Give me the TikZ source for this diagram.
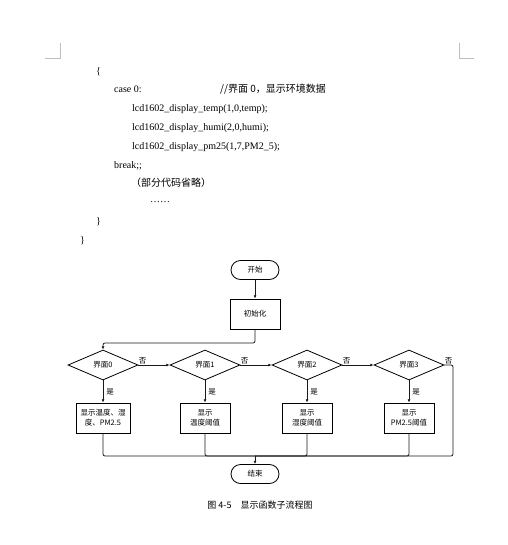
\documentclass[tikz,border=0pt]{standalone}
\usepackage{fontspec}
\setmainfont{Liberation Serif}
\newfontfamily\cjk{Noto Sans CJK SC}
\usetikzlibrary{arrows.meta, positioning, calc, shapes}

\begin{document}
\begin{tikzpicture}[x=1pt, y=-1pt,
    every node/.style={inner sep=0pt},
    code/.style={anchor=base west, font=\fontsize{10}{12}\selectfont},
    flow/.style={font=\fontsize{7.5}{10}\selectfont\cjk, align=center},
    term/.style={flow, draw, line width=0.8pt, rounded corners=9.5pt, minimum width=48pt, minimum height=19pt},
    proc/.style={flow, draw, line width=0.8pt, minimum width=50pt, minimum height=30pt},
    decide/.style={flow, draw, line width=0.8pt, diamond, minimum width=70pt, minimum height=30pt},
    lbl/.style={font=\fontsize{7.5}{9}\selectfont\cjk},
    line/.style={draw=black!90, line width=0.8pt, rounded corners=2pt},
    arr/.style={line, -{Latex[length=3.2pt, width=2.8pt]}}]
    \useasboundingbox (0,0) rectangle (507,545);

    % Page corner marks
    \draw[gray!50, line width=0.7pt] (45,58) -- (60,58) -- (60,43);
    \draw[gray!50, line width=0.7pt] (459,43) -- (459,58) -- (474,58);

    % Code listing
    \node[code] (c1) at (96,75) {\{};
    \node[code] (c2) at (114,92.5) {case 0:};
    \node[code] (c2b) at (220,92.5) {\cjk //界面 0，显示环境数据};
    \node[code] (c3) at (132,111.5) {lcd1602\_display\_temp(1,0,temp);};
    \node[code] (c4) at (132,130.5) {lcd1602\_display\_humi(2,0,humi);};
    \node[code] (c5) at (132,149.5) {lcd1602\_display\_pm25(1,7,PM2\_5);};
    \node[code] (c6) at (114,168.5) {break;;};
    \node[code] (c7) at (131,187) {\cjk （部分代码省略）};
    \node[code] (c8) at (150,202) {……};
    \node[code] (c9) at (96,224) {\}};
    \node[code] (c10) at (80,243) {\}};

    % Flowchart
    \node[term] (start) at (255,270) {开始};
    \node[proc] (init) at (255,314) {初始化};
    \foreach \i/\x in {0/103, 1/205, 2/307, 3/409}
        \node[decide] (d\i) at (\x,365) {界面\i};
    \node[proc, minimum width=54pt] (b0) at (103,418) {显示温度、湿\\度、PM2.5};
    \node[proc] (b1) at (205,418) {显示\\温度阈值};
    \node[proc] (b2) at (307,418) {显示\\湿度阈值};
    \node[proc] (b3) at (409,418) {显示\\PM2.5阈值};
    \node[term] (stop) at (255,474) {结束};

    \coordinate (top) at (103,343);
    \coordinate (join) at (255,456);
    \coordinate (rt) at (453,456);

    \draw[arr] (start) -- (init);
    \draw[arr] (init.south) |- (top) -- (d0.north);
    \foreach \i/\j in {0/1, 1/2, 2/3}
        \draw[arr] (d\i.east) node[lbl, above right=1pt and 0pt] (no\i) {否} -- (d\j.west);
    \foreach \i in {0,...,3}
        \draw[arr] (d\i.south) -- node[lbl, right=3pt] (yes\i) {是} (b\i.north);
    \draw[line] (d3.east) node[lbl, above right=1pt and 0pt] (no3) {否} -| (rt) -- (join);
    \foreach \i in {0,...,3}
        \draw[line] (b\i.south) |- (join);
    \draw[arr] (join) -- (stop);

    % Caption
    \node[font=\fontsize{9}{11}\selectfont\cjk] (cap) at (260,505) {图 4-5\quad 显示函数子流程图};
\end{tikzpicture}
\end{document}
